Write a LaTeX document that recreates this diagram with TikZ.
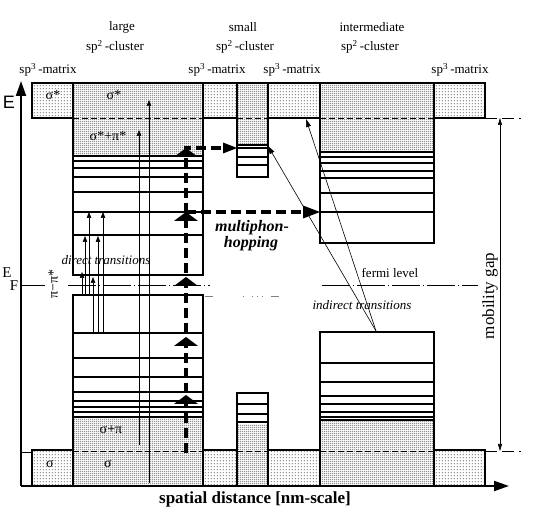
\documentclass[tikz,border=0pt]{standalone}
\usepackage{fontspec}
\setmainfont{Liberation Serif}
\setsansfont{Liberation Sans}
\usetikzlibrary{patterns,arrows.meta}
\pgfdeclarepatternformonly{sparsedots}{\pgfqpoint{0pt}{0pt}}{\pgfqpoint{3pt}{3pt}}{\pgfqpoint{3pt}{3pt}}{\pgfpathrectangle{\pgfqpoint{1pt}{1pt}}{\pgfqpoint{1pt}{1pt}}\pgfusepath{fill}}
\pgfdeclarepatternformonly{densedots}{\pgfqpoint{0pt}{0pt}}{\pgfqpoint{2pt}{2pt}}{\pgfqpoint{2pt}{2pt}}{\pgfpathrectangle{\pgfqpoint{0.4pt}{0.4pt}}{\pgfqpoint{1.2pt}{1.2pt}}\pgfusepath{fill}}
\begin{document}
\begin{tikzpicture}[x=1pt,y=-1pt,
  sparse/.style={pattern=sparsedots},
  dense/.style={pattern=densedots},
  outl/.style={line width=1.8pt, line join=miter},
  lvl/.style={line width=1.5pt},
  refl/.style={line width=0.6pt, dash pattern=on 6pt off 3pt},
  gapl/.style={line width=0.6pt, dash pattern=on 12pt off 5pt},
  thinarr/.style={line width=0.6pt, -{Triangle[length=6pt,width=4.5pt]}},
  hop/.style={line width=3.6pt, dash pattern=on 10pt off 5pt},
  fermi/.style={line width=0.6pt, dash pattern=on 28pt off 3pt on 1pt off 3pt},
  lab/.style={font=\fontsize{13}{15}\selectfont, inner sep=0pt},
  greek/.style={font=\fontsize{14}{16}\selectfont, inner sep=0pt},
  itl/.style={font=\fontsize{13}{15}\selectfont\itshape, inner sep=0pt},
  hopt/.style={font=\fontsize{16}{18}\selectfont\bfseries\itshape, inner sep=0pt},
  axisl/.style={line width=2pt},
]
\useasboundingbox (0,0) rectangle (539,510);

% ---------- fills ----------
\foreach \xa/\xb in {32/73,203/237,268/320,434/485}{
  \fill[sparse] (\xa,83) rectangle (\xb,118);
  \fill[sparse] (\xa,450) rectangle (\xb,486);
}
\fill[dense] (73,83) rectangle (203,156);
\fill[dense] (73,417) rectangle (203,486);
\fill[dense] (237,83) rectangle (268,145);
\fill[dense] (237,425) rectangle (268,486);
\fill[dense] (320,83) rectangle (434,152);
\fill[dense] (320,421) rectangle (434,486);

% ---------- dashed reference lines inside clusters ----------
\foreach \xa/\xb in {73/203,237/268,320/434}{
  \draw[refl] (\xa,118) -- (\xb,118);
  \draw[refl] (\xa,451) -- (\xb,451);
}

% ---------- level lines ----------
\foreach \y in {156,161,168,177,192,212,235}{\draw[lvl] (73,\y) -- (203,\y);}
\foreach \y in {333,358,377,392,401,407,412,417}{\draw[lvl] (73,\y) -- (203,\y);}
\foreach \y in {145,148,157,165}{\draw[lvl] (237,\y) -- (268,\y);}
\foreach \y in {404,414,422}{\draw[lvl] (237,\y) -- (268,\y);}
\foreach \y in {152,157,163,171,178,193,212}{\draw[lvl] (320,\y) -- (434,\y);}
\foreach \y in {363,382,396,404,412,417,420}{\draw[lvl] (320,\y) -- (434,\y);}

% ---------- outlines ----------
\draw[outl] (32,83) -- (485,83) -- (485,118) -- (434,118) -- (434,243) -- (320,243) -- (320,118)
  -- (268,118) -- (268,177) -- (237,177) -- (237,118) -- (203,118) -- (203,275) -- (73,275)
  -- (73,118) -- (32,118) -- cycle;
\foreach \x in {73,203,237,268,320,434}{\draw[outl] (\x,83) -- (\x,118);}
\draw[outl] (32,486) -- (32,450) -- (73,450) -- (73,295) -- (203,295) -- (203,450) -- (237,450)
  -- (237,393) -- (268,393) -- (268,450) -- (320,450) -- (320,332) -- (434,332) -- (434,450)
  -- (485,450) -- (485,486);
\foreach \x in {73,203,237,268,320,434}{\draw[outl] (\x,450) -- (\x,486);}
\draw[line width=0.6pt] (21,452) -- (32,452);

% ---------- axes ----------
\coordinate (O) at (21,486);
\coordinate (Ey) at (21,81);
\coordinate (Ex) at (509,486);
\draw[axisl, -{Triangle[length=15pt,width=10pt]}] (O) -- (Ey);
\draw[axisl, -{Triangle[length=15pt,width=10pt]}] (O) -- (Ex);
\node[font=\fontsize{18}{20}\selectfont\sffamily, inner sep=0pt] (Elab) at (9,102) {E};
\node[font=\fontsize{15}{17}\selectfont, inner sep=0pt] (EF) at (7,273) {E};
\node[font=\fontsize{15}{17}\selectfont, inner sep=0pt] (EFs) at (14,286) {F};

% ---------- fermi level ----------
\draw[line width=0.6pt] (21,285) -- (45,285);
\node[greek, rotate=90] (pipi) at (53,284) {π−π*};
\draw[fermi] (68,285) -- (210,285);
\draw[fermi] (322,285) -- (478,285);
\draw[line width=0.5pt, gray, dash pattern=on 8pt off 30pt on 1pt off 8pt on 1pt off 4pt on 1pt off 4pt on 1pt off 8pt] (205,296) -- (295,296);
\node[font=\fontsize{13}{15}\selectfont, inner sep=0pt] (fl) at (390,273) {fermi level};

% ---------- mobility gap ----------
\draw[gapl] (485,118) -- (521,118);
\draw[gapl] (485,451) -- (521,451);
\coordinate (mg1) at (500,118);
\coordinate (mg2) at (500,451);
\draw[line width=0.6pt, {Triangle[length=7pt,width=4pt]}-{Triangle[length=7pt,width=4pt]}] (mg1) -- (mg2);
\node[font=\fontsize{17}{19}\selectfont, rotate=90, inner sep=0pt] (mgl) at (490,296) {mobility gap};

% ---------- direct transitions ----------
\draw[thinarr] (149,483) -- (149,100);
\draw[thinarr] (139,445) -- (139,130);
\draw[thinarr] (82,295) -- (82,272);
\draw[thinarr] (85,295) -- (85,236);
\draw[thinarr] (89,295) -- (89,212);
\draw[thinarr] (93,333) -- (93,277);
\draw[thinarr] (98,333) -- (98,236);
\draw[thinarr] (103,333) -- (103,212);
\node[itl] (dt) at (106,260) {direct transitions};

% ---------- indirect transitions ----------
\coordinate (it0) at (376,331);
\coordinate (it1) at (268,146);
\coordinate (it2) at (306,119);
\draw[line width=0.6pt, -{Triangle[length=8pt,width=5pt]}] (it0) -- (it1);
\draw[line width=0.6pt, -{Triangle[length=8pt,width=5pt]}] (it0) -- (it2);
\node[itl] (itl) at (362,305) {indirect transitions};

% ---------- multiphonon hopping ----------
\coordinate (h0) at (186,453);
\coordinate (h1) at (186,148);
\coordinate (h2) at (225,148);
\coordinate (h3) at (186,212);
\coordinate (h4) at (305,212);
\draw[hop] (h0) -- (h1) -- (h2);
\draw[hop] (h3) -- (h4);
\fill (223,142.5) -- (237,148) -- (223,153.5) -- cycle;
\fill (303,205.5) -- (320,212) -- (303,218.5) -- cycle;
\foreach \t in {148,212,277,337,395}{
  \fill (174,\t+9) -- (186,\t) -- (198,\t+9) -- cycle;
}
\node[hopt] (mp1) at (252,228) {multiphon-};
\node[hopt] (mp2) at (251,244) {hopping};

% ---------- band labels ----------
\node[greek] (s1) at (53,95) {σ*};
\node[greek] (s2) at (114,95) {σ*};
\node[greek] (s3) at (108,136) {σ*+π*};
\node[greek] (s4) at (111,430) {σ+π};
\node[greek] (s5) at (108,464) {σ};
\node[greek] (s6) at (50,464) {σ};

% ---------- top labels ----------
\node[lab] (t1) at (122,27) {large};
\node[lab] (t2) at (115,47) {sp\textsuperscript{2}\,-cluster};
\node[lab] (t3) at (243,27) {small};
\node[lab] (t4) at (245,47) {sp\textsuperscript{2}\,-cluster};
\node[lab] (t5) at (372,27) {intermediate};
\node[lab] (t6) at (370,47) {sp\textsuperscript{2}\,-cluster};
\node[lab] (m1) at (48,70) {sp\textsuperscript{3}\,-matrix};
\node[lab] (m2) at (217,70) {sp\textsuperscript{3}\,-matrix};
\node[lab] (m3) at (292,70) {sp\textsuperscript{3}\,-matrix};
\node[lab] (m4) at (460,70) {sp\textsuperscript{3}\,-matrix};

% ---------- x-axis label ----------
\node[font=\fontsize{17}{19}\selectfont\bfseries, inner sep=0pt] (xl) at (255,499) {spatial distance [nm-scale]};
\end{tikzpicture}
\end{document}
